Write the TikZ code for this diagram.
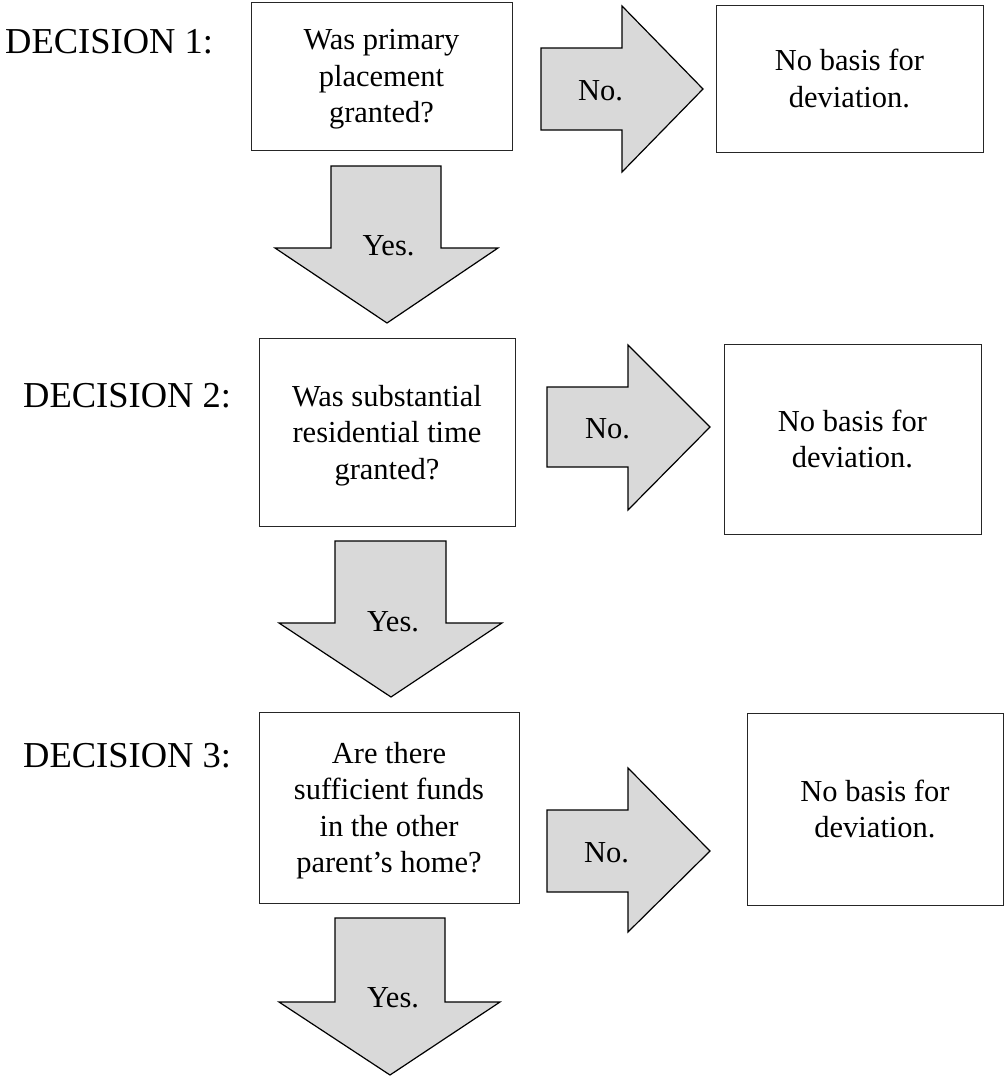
\documentclass[tikz,border=0pt]{standalone}
\usepackage{fontspec}
\setmainfont{Liberation Serif}
\begin{document}
\begin{tikzpicture}[x=1pt,y=-1pt,
  qbox/.style={draw=black!85,line width=1pt,align=center,inner sep=0pt,text depth=0pt,font=\fontsize{30.5}{36.5}\selectfont},
  blk/.style={draw=black,line width=1.2pt,fill=black!15,line join=miter},
  lbl/.style={anchor=base,inner sep=0pt,font=\fontsize{30.5}{36.5}\selectfont},
  dec/.style={anchor=base west,inner sep=0pt,font=\fontsize{36.5}{44}\selectfont}]
\useasboundingbox (0,0) rectangle (1004,1076);

% decision labels
\node[dec] (d1) at (5,53) {DECISION 1:};
\node[dec] (d2) at (23,407) {DECISION 2:};
\node[dec] (d3) at (23,767) {DECISION 3:};

% question boxes
\node[qbox,minimum width=261pt,minimum height=148pt] (q1) at (381.5,76) {Was primary\\placement\\granted?};
\node[qbox,minimum width=256pt,minimum height=188pt] (q2) at (387,432) {Was substantial\\residential time\\granted?};
\node[qbox,minimum width=260pt,minimum height=191pt] (q3) at (389,807.5) {Are there\\sufficient funds\\in the other\\parent’s home?};

% result boxes
\node[qbox,minimum width=267pt,minimum height=147pt] (r1) at (849.5,78.5) {No basis for\\deviation.};
\node[qbox,minimum width=257pt,minimum height=190pt] (r2) at (852.5,439) {No basis for\\deviation.};
\node[qbox,minimum width=256pt,minimum height=192pt] (r3) at (875,809) {No basis for\\deviation.};

% "No." block arrows
\draw[blk] (541,48) -- (622,48) -- (622,6) -- (703,89) -- (622,172) -- (622,130) -- (541,130) -- cycle;
\draw[blk] (547,387) -- (628,387) -- (628,345) -- (710,427) -- (628,510) -- (628,467) -- (547,467) -- cycle;
\draw[blk] (547,810) -- (628,810) -- (628,768) -- (710,851) -- (628,932) -- (628,892) -- (547,892) -- cycle;

% "Yes." block arrows
\draw[blk] (331,166) -- (441,166) -- (441,248) -- (498,248) -- (387,323) -- (275,248) -- (331,248) -- cycle;
\draw[blk] (335,541) -- (446,541) -- (446,623) -- (502,623) -- (391,697) -- (279,623) -- (335,623) -- cycle;
\draw[blk] (335,918) -- (445,918) -- (445,1002) -- (500,1002) -- (390,1075) -- (279,1002) -- (335,1002) -- cycle;

% arrow labels
\node[lbl] (n1) at (600.5,100) {No.};
\node[lbl] (n2) at (607.5,438) {No.};
\node[lbl] (n3) at (606.5,862) {No.};
\node[lbl] (y1) at (388.5,255) {Yes.};
\node[lbl] (y2) at (393,631) {Yes.};
\node[lbl] (y3) at (393,1007) {Yes.};
\end{tikzpicture}
\end{document}
